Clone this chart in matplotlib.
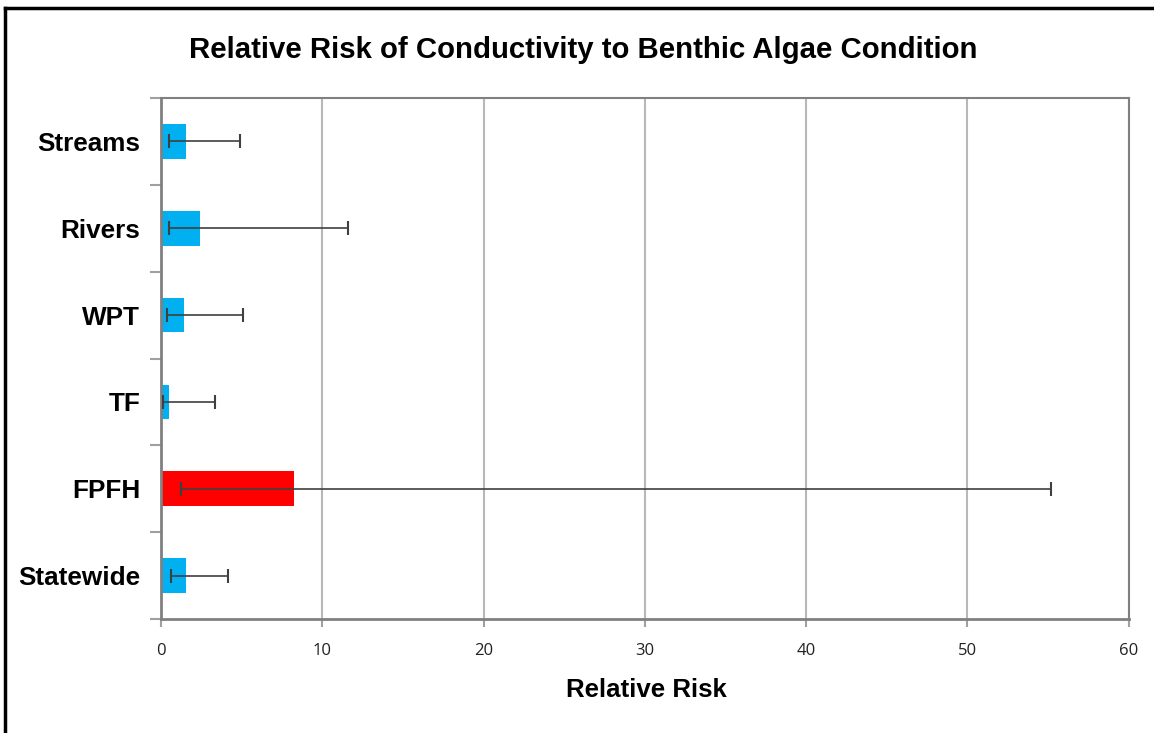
import matplotlib
matplotlib.use("Agg")
import matplotlib.pyplot as plt
from matplotlib.lines import Line2D
from matplotlib import font_manager
import numpy as np

categories = ["Streams", "Rivers", "WPT", "TF", "FPFH", "Statewide"]
relative_risk = [1.57, 2.44, 1.40, 0.47, 8.26, 1.57]
ci_lower = [0.51, 0.51, 0.35, 0.10, 1.22, 0.62]
ci_upper = [4.92, 11.6, 5.06, 3.37, 55.2, 4.13]
bar_colors = ["#00B0F0", "#00B0F0", "#00B0F0", "#00B0F0", "#FF0000", "#00B0F0"]
x_ticks = [0, 10, 20, 30, 40, 50, 60]

def pick_font(cands):
    for c in cands:
        try:
            font_manager.findfont(font_manager.FontProperties(family=c), fallback_to_default=False)
            return c
        except Exception:
            pass
    return "DejaVu Sans"

bold_font = pick_font(["Liberation Sans Narrow", "Liberation Sans", "Arial"])
tick_font = pick_font(["Open Sans", "Lato", "DejaVu Sans"])

W, H = 1154, 733
fig = plt.figure(figsize=(W / 100, H / 100), dpi=100)
ax = fig.add_axes([161 / W, 1 - 619 / H, (1128.5 - 161) / W, (619 - 98) / H])

n = len(categories)
y = np.arange(n)[::-1]
xerr = [np.array(relative_risk) - np.array(ci_lower), np.array(ci_upper) - np.array(relative_risk)]
ax.barh(y, relative_risk, height=0.4, color=bar_colors, zorder=2)
ax.errorbar(relative_risk, y, xerr=xerr, fmt="none", ecolor="#404040", elinewidth=1.2,
            capsize=5, capthick=1.5, zorder=3)

ax.set_xlim(0, 60)
ax.set_ylim(-0.5, n - 0.5)
ax.set_xticks(x_ticks)
ax.set_xticklabels([str(t) for t in x_ticks], family=[tick_font, "DejaVu Sans"], fontsize=12, color="#222222")
ax.tick_params(axis="x", length=6, color="#a0a0a0", width=1.5, pad=11)
ax.grid(axis="x", color="#b8b8b8", linewidth=1.5, zorder=0)
ax.set_axisbelow(True)

ax.set_yticks(y)
ylabels = ax.set_yticklabels(categories, family=[bold_font, "DejaVu Sans"], fontweight="bold", fontsize=19)
ax.tick_params(axis="y", which="major", length=0, pad=15)
ax.set_yticks(np.arange(n + 1) - 0.5, minor=True)
ax.tick_params(axis="y", which="minor", length=8, color="#a0a0a0", width=1.5)

for side in ["left", "bottom"]:
    ax.spines[side].set_color("#808080")
    ax.spines[side].set_linewidth(2)
for side in ["top", "right"]:
    ax.spines[side].set_color("#808080")
    ax.spines[side].set_linewidth(1.5)

xl = fig.text(646 / W, 1 - 690 / H, "Relative Risk", family=[bold_font, "DejaVu Sans"], fontweight="bold",
              fontsize=19, ha="center", va="center")
title = fig.text(583 / W, 1 - 50 / H, "Relative Risk of Conductivity to Benthic Algae Condition",
                 family=[bold_font, "DejaVu Sans"], fontweight="bold", fontsize=22,
                 ha="center", va="center")

# fit text sizes to reference widths
fig.canvas.draw()
r = fig.canvas.get_renderer()
def fit(t, target):
    w = t.get_window_extent(r).width
    t.set_fontsize(t.get_fontsize() * target / w)
fit(title, 787)
fit(xl, 161)
sw = ylabels[-1].get_window_extent(r).width
ysize = ylabels[-1].get_fontsize() * 122 / sw
for t in ax.get_yticklabels():
    t.set_fontsize(ysize)

fig.add_artist(Line2D([5 / W, 5 / W], [0, 1 - 8 / H], color="black", linewidth=2.5, transform=fig.transFigure))
fig.add_artist(Line2D([5 / W, 1], [1 - 8 / H, 1 - 8 / H], color="black", linewidth=2.5, transform=fig.transFigure))

fig.savefig("out.png", dpi=100)
